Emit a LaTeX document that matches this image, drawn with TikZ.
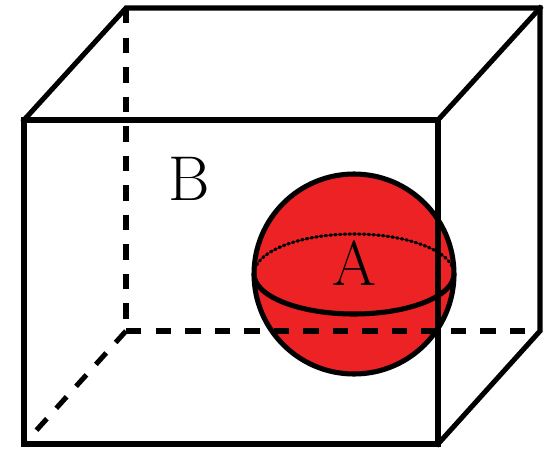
\documentclass[tikz,border=0pt]{standalone}
\usetikzlibrary{positioning}
\definecolor{ballred}{HTML}{ED2224}
\tikzset{
  edge/.style={line width=3.6pt, line cap=rect, line join=miter},
  hidden/.style={line width=3.6pt, dash pattern=on 11pt off 10pt},
  lbl/.style={font=\fontsize{45}{50}\selectfont, inner sep=0pt}
}
\begin{document}
\begin{tikzpicture}[x=0.025cm, y=-0.025cm]
  \useasboundingbox (0,0) rectangle (553,449);
  % front face corners
  \coordinate (f1) at (24,  120);
  \coordinate (f2) at (438, 120);
  \coordinate (f3) at (438, 444);
  \coordinate (f4) at (24,  444);
  % back face corners
  \coordinate (b1) at (126, 8);
  \coordinate (b2) at (540, 8);
  \coordinate (b3) at (540, 331);
  \coordinate (b4) at (126, 331);
  % sphere centre and left end of its equator
  \coordinate (o)   at (354, 274);
  \coordinate (eqL) at (254, 274);

  % ---- Ball A ----
  \fill[ballred] (o) circle (100);
  % back half of the equator (y axis points down: 180 -> 360 is the upper half)
  \draw[line width=2.2pt, dash pattern=on 1.2pt off 2.2pt, line cap=round]
    (eqL) arc[start angle=180, end angle=360, x radius=100, y radius=40];
  \draw[line width=3.6pt] (eqL) arc[start angle=180, end angle=0, x radius=100, y radius=40];
  \draw[line width=3.6pt] (o) circle (100);

  % ---- Hidden edges ----
  \draw[hidden] (b1) -- (b4);
  \draw[hidden] (b4) -- (b3);
  \draw[hidden] (b4) -- (f4);

  % ---- Visible edges ----
  \draw[edge] (f1) -- (f2) -- (f3) -- (f4) -- cycle;
  \draw[edge] (f1) -- (b1) -- (b2) -- (b3) -- (f3);
  \draw[edge] (f2) -- (b2);

  % ---- Labels ----
  \node[lbl] (labB) at (189, 179) {B};
  \node[lbl] (labA) at (354, 263) {A};
\end{tikzpicture}
\end{document}
